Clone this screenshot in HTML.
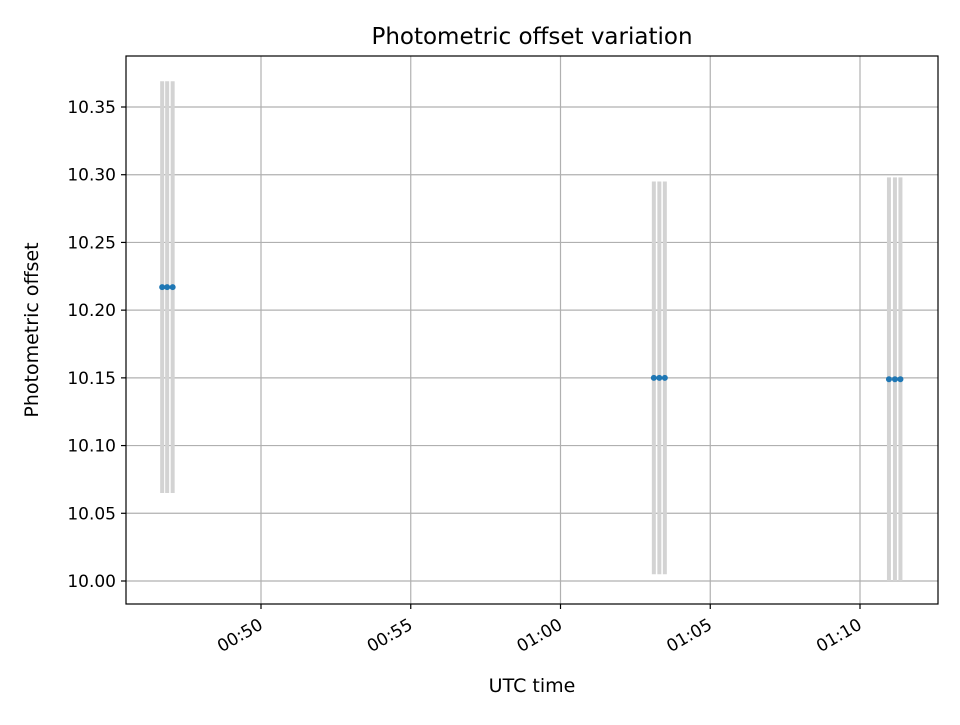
<!DOCTYPE html>
<html><head><meta charset="utf-8"><style>
body{margin:0;background:#fff}
svg{font-family:"DejaVu Sans","Liberation Sans",sans-serif}
</style></head><body>
<svg id="chart" width="960" height="720" xmlns="http://www.w3.org/2000/svg">
<rect width="960" height="720" fill="#fff"/>
<g id="grid"></g>
<g id="marks"></g>
<rect x="126" y="56" width="812" height="548" fill="none" stroke="#000" stroke-width="1.2"/>
<g id="axes"></g>
<text x="532" y="44" text-anchor="middle" font-size="23">Photometric offset variation</text>
<text x="532" y="692" text-anchor="middle" font-size="19">UTC time</text>
<text transform="translate(38,330) rotate(-90)" text-anchor="middle" font-size="19">Photometric offset</text>
</svg>
<script>
// times in seconds since 00:00 UTC
const times = [2802, 2812, 2823, 3787, 3798, 3809, 4258, 4270, 4281];
const offsets = [10.217, 10.217, 10.217, 10.150, 10.150, 10.150, 10.149, 10.149, 10.149];
const errors = [0.152, 0.152, 0.152, 0.145, 0.145, 0.145, 0.149, 0.149, 0.149];
const xTicks = [3000, 3300, 3600, 3900, 4200];
const xTickLabels = ["00:50", "00:55", "01:00", "01:05", "01:10"];
const yTicks = [10.00, 10.05, 10.10, 10.15, 10.20, 10.25, 10.30, 10.35];
const yTickLabels = ["10.00", "10.05", "10.10", "10.15", "10.20", "10.25", "10.30", "10.35"];

const L=126,R=938,T=56,B=604;
const xs = t => 261 + (t-3000)*(860-261)/1200;
const ys = v => 581 - (v-10.0)*(581-107)/0.35;
const NS="http://www.w3.org/2000/svg";
function mk(tag, attrs, parent){const e=document.createElementNS(NS,tag);for(const k in attrs)e.setAttribute(k,attrs[k]);parent.appendChild(e);return e;}
const grid=document.getElementById('grid'), axes=document.getElementById('axes'), marks=document.getElementById('marks');
xTicks.forEach((t,i)=>{
  const x=xs(t);
  const g=mk('line',{x1:x,x2:x,y1:T,y2:B,stroke:'#b0b0b0','stroke-width':1.2},grid);
  
  
  const tk=mk('line',{x1:x,x2:x,y1:B,y2:B+5,stroke:'#000','stroke-width':1.2},axes);
  
  
  const lb=mk('text',{transform:`translate(${x+3},${B+24}) rotate(-30)`,'text-anchor':'end','font-size':17},axes);
  lb.textContent=xTickLabels[i];
  
  
});
yTicks.forEach((v,i)=>{
  const y=ys(v);
  const g=mk('line',{x1:L,x2:R,y1:y,y2:y,stroke:'#b0b0b0','stroke-width':1.2},grid);
  
  
  const tk=mk('line',{x1:L-5,x2:L,y1:y,y2:y,stroke:'#000','stroke-width':1.2},axes);
  
  
  const lb=mk('text',{x:L-10,y:y+6,'text-anchor':'end','font-size':17},axes);
  lb.textContent=yTickLabels[i];
  
  
});
times.forEach((t,i)=>{
  const x=xs(t);
  const eb=mk('line',{x1:x,x2:x,y1:ys(offsets[i]+errors[i]),y2:ys(offsets[i]-errors[i]),stroke:'#d3d3d3','stroke-width':4},marks);
  
  
});
times.forEach((t,i)=>{
  const p=mk('circle',{cx:xs(t),cy:ys(offsets[i]),r:3,fill:'#1f77b4'},marks);
  
  
});
</script>
</body></html>
